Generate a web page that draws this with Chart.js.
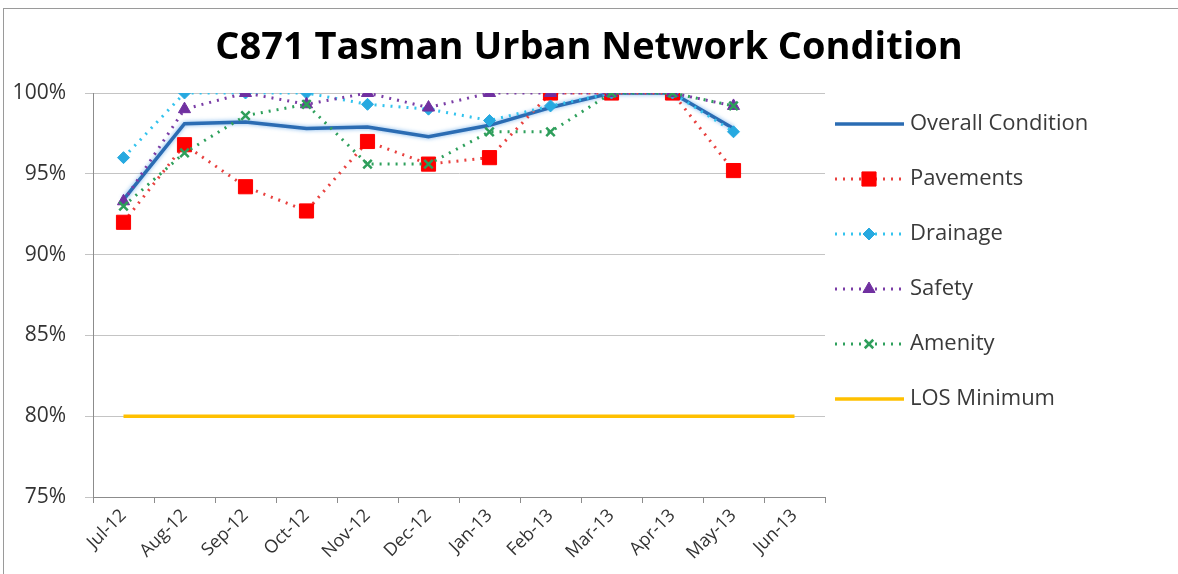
<!DOCTYPE html>
<html>
<head>
<meta charset="utf-8">
<script src="https://cdn.jsdelivr.net/npm/chart.js@4.4.1/dist/chart.umd.min.js"></script>
<style>
  body { margin: 0; background: #fff; }
  #frame { position: absolute; left: 3px; top: 8px; width: 1200px; height: 600px; border: 1px solid #9a9a9a; }
  #myChart { position: absolute; left: 0; top: 0; }
</style>
</head>
<body>
<div id="frame"></div>
<canvas id="myChart" width="1178" height="574"></canvas>
<script>
// chart values
const months = ['Jul-12','Aug-12','Sep-12','Oct-12','Nov-12','Dec-12','Jan-13','Feb-13','Mar-13','Apr-13','May-13','Jun-13'];
const overall   = [93.4, 98.1, 98.2, 97.8, 97.9, 97.3, 98.0, 99.1, 100, 100, 97.8, null];
const pavements = [92.0, 96.8, 94.2, 92.7, 97.0, 95.6, 96.0, 100, 100, 100, 95.2, null];
const drainage  = [96.0, 100, 100, 100, 99.3, 99.0, 98.3, 99.2, 100, 100, 97.6, null];
const safety    = [93.3, 99.0, 100, 99.3, 100, 99.1, 100, 100, 100, 100, 99.2, null];
const amenity   = [93.0, 96.3, 98.6, 99.3, 95.6, 95.6, 97.6, 97.6, 100, 100, 99.2, null];
const losMin    = [80, 80, 80, 80, 80, 80, 80, 80, 80, 80, 80, 80];
const yTicks    = [75, 80, 85, 90, 95, 100];

const FONT = "'Open Sans', 'Liberation Sans', sans-serif";

function dotted(label, data, color, markerColor, style, radius, order) {
  return {
    label: label, data: data,
    borderColor: color, borderWidth: 3, borderDash: [2, 6],
    pointStyle: style, pointRadius: radius, pointHoverRadius: radius,
    pointBackgroundColor: markerColor, pointBorderColor: markerColor, pointBorderWidth: style == 'crossRot' ? 2.5 : 1,
    tension: 0, fill: false, order: order
  };
}

// overall line gets a soft glow like the excel original
const glow = {
  id: 'glow',
  beforeDatasetDraw(chart, args) {
    if (args.index === 0) {
      chart.ctx.save();
      chart.ctx.shadowColor = 'rgba(90,160,230,0.8)';
      chart.ctx.shadowBlur = 4;
    }
  },
  afterDatasetDraw(chart, args) {
    if (args.index === 0) chart.ctx.restore();
  }
};

// legend on the right, drawn by hand
const sideLegend = {
  id: 'sideLegend',
  afterDraw(chart) {
    const ctx = chart.ctx;
    chart.data.datasets.forEach((ds, i) => {
      const y = 124 + i * 55;
      ctx.save();
      ctx.strokeStyle = ds.borderColor;
      ctx.lineWidth = ds.borderWidth;
      ctx.setLineDash(ds.borderDash || []);
      ctx.beginPath();
      ctx.moveTo(835, y);
      ctx.lineTo(904, y);
      ctx.stroke();
      ctx.setLineDash([]);
      if (ds.pointRadius > 0 && Chart.helpers && Chart.helpers.drawPoint) {
        ctx.fillStyle = ds.pointBackgroundColor;
        ctx.strokeStyle = ds.pointBorderColor;
        ctx.lineWidth = ds.pointBorderWidth;
        Chart.helpers.drawPoint(ctx, {pointStyle: ds.pointStyle, radius: ds.pointRadius, rotation: 0, borderWidth: ds.pointBorderWidth}, 869, y);
      }
      ctx.fillStyle = '#3a3a3a';
      ctx.font = '22px ' + FONT;
      ctx.textBaseline = 'middle';
      ctx.fillText(ds.label, 910, y);
      ctx.restore();
    });
  }
};

const ctx = document.getElementById('myChart');

var myChart = new Chart(ctx, {
  type: 'line',
  data: {
    labels: months,
    datasets: [
      { label: 'Overall Condition', data: overall, borderColor: '#2B6CB3', borderWidth: 3.5,
        pointRadius: 0, tension: 0, fill: false, order: 5 },
      dotted('Pavements', pavements, '#E8413F', '#FF0000', 'rect', 10, 4),
      dotted('Drainage', drainage, '#33C3EE', '#27A9E0', 'rectRot', 6, 3),
      dotted('Safety', safety, '#7A3DA6', '#7030A0', 'triangle', 7, 2),
      dotted('Amenity', amenity, '#2EA05C', '#2E9E5B', 'crossRot', 6, 1),
      { label: 'LOS Minimum', data: losMin, borderColor: '#FFC000', borderWidth: 3.5,
        pointRadius: 0, tension: 0, fill: false, order: 0 }
    ]
  },
  options: {
    responsive: false,
    animation: false,
    layout: { padding: 0 },
    plugins: {
      legend: { display: false },
      tooltip: { enabled: false },
      title: {
        display: true,
        text: 'C871 Tasman Urban Network Condition',
        color: '#000',
        font: { family: FONT, size: 38, weight: 'bold' },
        padding: { top: 25, bottom: 22.4 }
      }
    },
    scales: {
      x: {
        offset: true,
        grid: { display: true, drawOnChartArea: false, drawTicks: true, tickLength: 6, offset: true, color: '#8c8c8c' },
        border: { color: '#8c8c8c' },
        ticks: { minRotation: 45, maxRotation: 45, color: '#333', font: { family: FONT, size: 18 }, padding: 2 },
        afterFit: s => { s.height = 77; }
      },
      y: {
        min: 75, max: 100,
        afterBuildTicks: s => { s.ticks = yTicks.map(v => ({ value: v })); },
        grid: { color: '#c4c4c4', tickLength: 8 },
        border: { color: '#8c8c8c' },
        ticks: { color: '#333', font: { family: FONT, size: 21 }, padding: 19, callback: v => v + '%' },
        afterFit: s => { s.width = 93; }
      },
      // empty axis on the right just to leave room for the legend
      side: {
        position: 'right', min: 0, max: 1,
        grid: { display: false }, border: { display: false }, ticks: { display: false },
        afterFit: s => { s.width = 353; }
      }
    }
  },
  plugins: [glow, sideLegend]
});
</script>
</body>
</html>
